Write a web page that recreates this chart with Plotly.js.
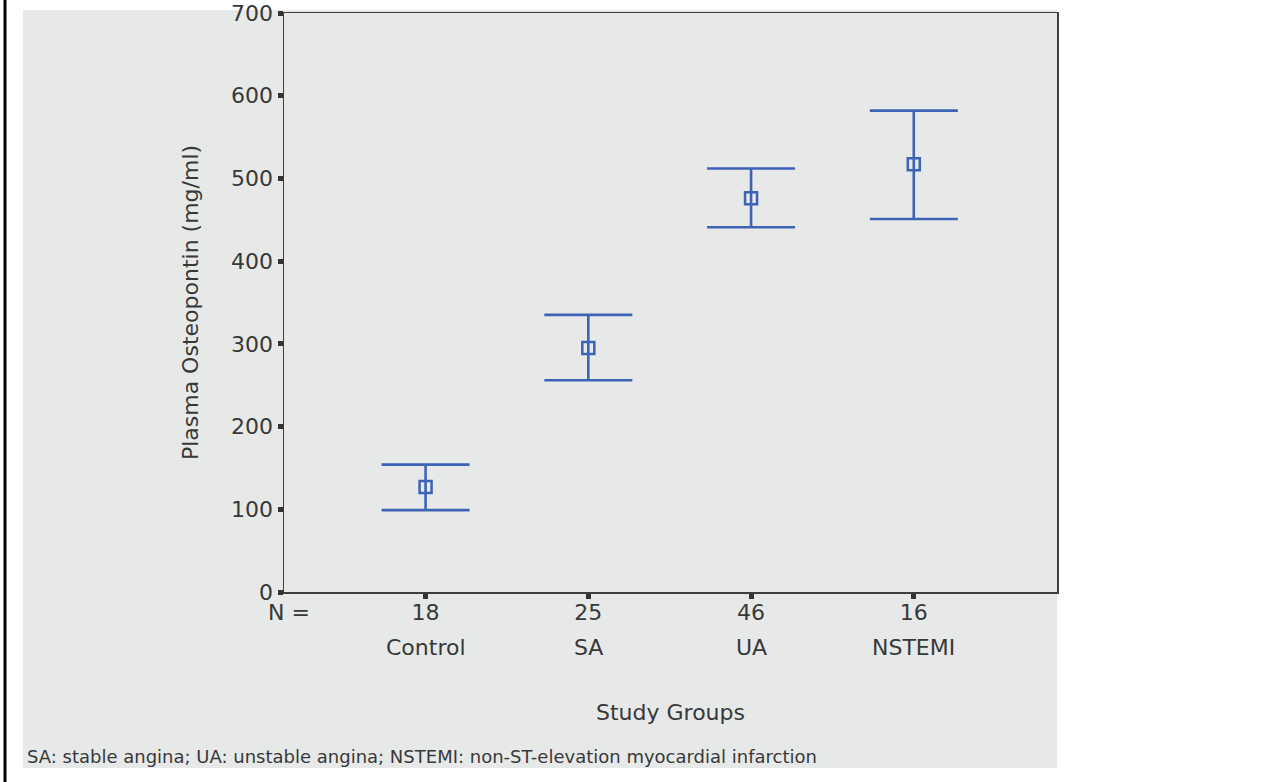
<!DOCTYPE html>
<html><head><meta charset="utf-8">
<script src="https://cdn.plot.ly/plotly-3.0.1.min.js"></script>
<style>html,body{margin:0;padding:0;background:#fff;}#chart{width:1275px;height:782px;}</style>
</head><body><div id="chart"></div>
<script>
var groups = ["Control", "SA", "UA", "NSTEMI"];
var nValues = ["18", "25", "46", "16"];
var means = [127, 295, 476, 517];
var upper = [154, 335, 512, 582];
var lower = [99, 256, 441, 451];

var L = 284, R = 1057, T = 13, B = 592, W = 1275, H = 782;
function px(x){ return (x - L) / (R - L); }
function py(y){ return (B - y) / (B - T); }

var textColor = "#383838";
var blue = "#3c63b6";
var fontFam = "'DejaVu Sans', sans-serif";
var fs = 22;

var trace = {
  type: "scatter", mode: "markers",
  x: [0,1,2,3], y: means,
  marker: {symbol: "square-open", size: 12, color: blue, line: {width: 2.5, color: blue}},
  error_y: {type: "data", symmetric: false,
    array: upper.map(function(u,i){return u - means[i];}),
    arrayminus: lower.map(function(l,i){return means[i] - l;}),
    width: 44, thickness: 2.6, color: blue},
  hoverinfo: "skip", showlegend: false
};

var annotations = groups.map(function(g,i){
  return {x: i, xref: "x", y: py(647), yref: "paper", text: g, showarrow: false,
    font: {size: fs, color: textColor, family: fontFam}, xanchor: "center", yanchor: "middle"};
});
annotations.push({x: px(289), xref: "paper", y: py(612), yref: "paper", text: "N =", showarrow: false,
  font: {size: fs, color: textColor, family: fontFam}, xanchor: "center", yanchor: "middle"});
annotations.push({x: px(25), xref: "paper", y: py(756), yref: "paper",
  text: "SA: stable angina; UA: unstable angina; NSTEMI: non-ST-elevation myocardial infarction",
  showarrow: false, font: {size: 18, color: textColor, family: fontFam}, xanchor: "left", yanchor: "middle"});

var layout = {
  width: W, height: H,
  margin: {l: L, r: W - R, t: T, b: H - B},
  paper_bgcolor: "#ffffff", plot_bgcolor: "rgba(0,0,0,0)",
  font: {family: fontFam, color: textColor},
  xaxis: {range: [-0.87, 3.88], tickmode: "array", tickvals: [0,1,2,3], ticktext: nValues,
    showgrid: false, zeroline: false, showline: true, linecolor: "#3d3d3d", linewidth: 1.5, mirror: true,
    ticks: "outside", ticklen: 5, tickwidth: 5, tickcolor: "#333", ticklabelstandoff: -5,
    tickfont: {size: fs, color: textColor, family: fontFam},
    title: {text: "Study Groups", font: {size: fs, color: textColor, family: fontFam}, standoff: 80}},
  yaxis: {range: [0, 700], tickvals: [0,100,200,300,400,500,600,700],
    showgrid: false, zeroline: false, showline: true, linecolor: "#3d3d3d", linewidth: 1.5, mirror: true,
    ticks: "outside", ticklen: 5, tickwidth: 5, tickcolor: "#333", ticklabeloverflow: "allow",
    tickfont: {size: fs, color: textColor, family: fontFam},
    title: {text: "Plasma Osteopontin (mg/ml)", font: {size: fs, color: textColor, family: fontFam}, standoff: 26}},
  shapes: [
    {type: "rect", xref: "paper", yref: "paper", x0: px(23), x1: px(1057), y0: py(768), y1: py(10),
      fillcolor: "#e7e9e9", line: {width: 0}, layer: "below"},
    {type: "line", xref: "paper", yref: "paper", x0: px(5), x1: px(5), y0: py(782), y1: py(0),
      line: {color: "#000", width: 3}}
  ],
  annotations: annotations
};

Plotly.newPlot("chart", [trace], layout, {displayModeBar: false, staticPlot: true});
</script></body></html>
